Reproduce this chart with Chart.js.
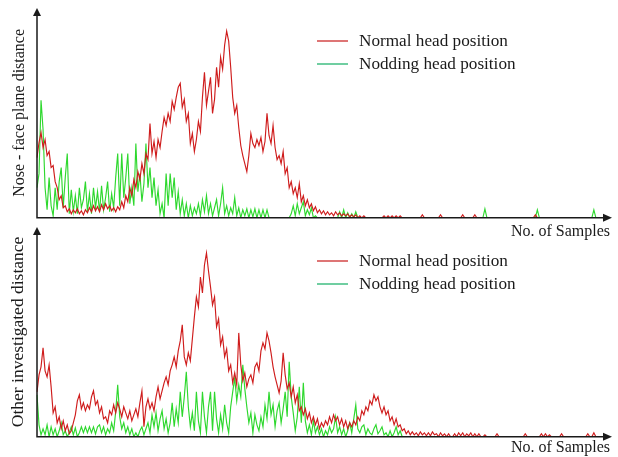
<!DOCTYPE html>
<html>
<head>
<meta charset="utf-8">
<script src="https://cdn.jsdelivr.net/npm/chart.js@4.4.1/dist/chart.umd.min.js"></script>
<style>
    html, body { margin: 0; padding: 0; background: #fff; overflow: hidden; }
    #wrap { position: relative; width: 618px; height: 457px; }
    #topBox { position: absolute; left: 0; top: 0; width: 618px; height: 241px; }
    #botBox { position: absolute; left: 0; top: 220px; width: 618px; height: 237px; }
</style>
</head>
<body>
<div id="wrap">
    <div id="topBox"><canvas id="topChart"></canvas></div>
    <div id="botBox"><canvas id="botChart"></canvas></div>
</div>
<script>
// === DATOS ===
const seriesNames = ['Normal head position', 'Nodding head position'];
const xTitle = 'No. of Samples';
const topTitle = 'Nose - face plane distance';
const botTitle = 'Other investigated distance';

// Panel superior - distancia nariz / plano de la cara
const topNormal = [
    60,75,85,70,78,62,66,50,52,36,
    30,18,22,10,12,6,9,4,8,5,
    9,4,7,3,8,5,10,6,12,7,
    11,6,13,8,14,9,12,7,10,6,
    11,8,16,10,22,16,30,22,38,30,
    46,38,54,44,64,58,94,64,76,60,
    78,70,86,100,92,104,96,116,108,120,
    130,134,110,118,96,104,74,84,66,78,
    96,86,120,145,112,126,140,104,118,150,
    130,160,148,172,186,176,150,120,104,112,
    90,72,62,54,46,62,84,74,70,78,
    72,80,66,76,104,82,74,92,70,58,
    62,54,66,44,50,30,36,24,30,20,
    34,16,22,12,18,10,14,7,11,5,
    8,4,7,3,6,3,5,2,6,3,
    5,2,4,2,4,1,3,1,3,0,
    2,0,2,0,0,0,0,0,0,0,
    0,0,2,0,2,0,2,0,2,0,
    2,0,0,0,0,0,0,0,0,0,
    0,3,0,0,0,0,0,0,0,0,
    3,0,0,0,0,0,0,0,0,0,
    0,3,0,0,0,0,0,3,0,0,
    0,0,0,0,0,0,0,0,0,0,
    0,0,0,0,0,0,0,0,0,0,
    0,0,0,0,0,0,0,3,0,0,
    0,0,0,0,0,0,0,0,0,0,
    0,0,0,0,0,0,0,0,0,0,
    0,0,0,0,0,0,0,0,0,0,
    0,0,0,0,0
];
const topNodding = [
    30,44,117,88,30,8,40,12,2,30,
    8,36,50,10,40,64,4,28,6,22,
    4,30,10,18,36,6,24,4,30,10,
    26,6,32,8,20,36,6,24,10,40,
    64,12,64,20,40,64,14,30,12,74,
    26,44,16,34,74,30,50,20,40,12,
    28,4,14,0,44,12,44,20,40,8,
    26,4,18,2,14,0,12,2,10,4,
    14,2,18,6,22,4,14,2,10,18,
    2,14,30,4,12,2,10,4,20,2,
    10,0,8,2,9,0,8,1,9,0,
    8,0,8,0,8,0,0,0,0,0,
    0,0,0,0,0,0,4,12,2,14,
    4,10,16,2,8,3,10,0,2,0,
    0,0,0,0,0,0,0,0,0,0,
    6,0,8,0,5,0,4,0,6,0,
    0,0,0,0,0,0,0,0,0,0,
    0,0,0,0,0,0,0,0,0,0,
    0,0,0,0,0,0,0,0,0,0,
    0,0,0,0,0,0,0,0,0,0,
    0,0,0,0,0,0,0,0,0,0,
    0,0,0,0,0,0,0,0,0,0,
    0,0,9,0,0,0,0,0,0,0,
    0,0,0,0,0,0,0,0,0,0,
    0,0,0,0,0,0,0,0,8,0,
    0,0,0,0,0,0,0,0,0,0,
    0,0,0,0,0,0,0,0,0,0,
    0,0,0,0,0,0,8,0,0,0,
    0,0,0,0,0
];

// Panel inferior - otra distancia investigada
const botNormal = [
    45,62,70,89,66,60,72,50,24,30,
    14,20,8,16,6,12,3,6,14,22,
    36,42,28,34,26,32,28,40,46,32,
    36,24,30,18,20,14,26,22,32,24,
    34,28,20,30,24,18,26,16,22,28,
    20,34,46,10,30,38,28,34,26,40,
    50,38,46,54,60,52,66,72,80,70,
    86,96,112,80,72,84,76,98,120,140,
    130,160,144,172,184,166,150,132,140,110,
    118,92,100,80,88,66,72,54,64,52,
    104,72,56,64,50,58,62,54,70,74,
    66,86,94,88,104,96,84,70,60,52,
    44,56,84,62,48,54,40,50,34,42,
    26,30,22,28,18,24,14,20,12,18,
    8,14,10,16,12,20,14,22,16,20,
    12,18,10,16,8,14,10,16,12,20,
    16,26,22,30,26,36,32,42,36,40,
    30,24,30,22,26,16,20,12,18,10,
    12,6,8,3,6,2,5,2,4,1,
    5,2,4,1,4,1,5,2,3,0,
    4,1,3,0,3,0,0,3,0,4,
    1,4,0,3,1,4,0,3,0,3,
    0,0,2,0,0,0,0,0,3,0,
    0,0,0,0,0,0,0,0,0,0,
    0,0,3,0,0,0,0,0,0,0,
    3,0,3,0,2,0,0,0,0,0,
    3,0,0,0,0,0,0,0,0,0,
    0,0,0,3,0,0,4,0,0,0,
    0,0,0,0,0
];
const botNodding = [
    42,12,2,8,2,12,0,10,2,8,
    0,6,14,2,6,0,4,10,2,9,
    0,4,10,4,10,4,10,4,10,3,
    10,12,4,10,2,8,4,14,6,25,
    52,20,8,14,4,10,2,8,0,4,
    0,6,10,2,8,14,4,22,10,24,
    6,18,26,8,18,4,14,34,10,28,
    14,45,20,40,65,30,10,24,6,45,
    16,4,45,20,4,30,45,6,45,18,
    4,22,8,32,14,4,30,45,59,36,
    52,40,72,48,30,14,24,4,22,12,
    6,20,10,32,18,45,22,32,10,26,
    34,14,28,45,20,75,40,24,6,20,
    50,14,54,16,4,12,2,16,4,10,
    2,8,0,6,2,10,4,8,20,4,
    10,2,8,0,6,14,4,18,32,8,
    4,10,12,2,8,4,2,8,12,3,
    6,10,2,4,0,6,0,4,10,2,
    6,0,0,0,0,0,0,0,0,0,
    0,0,0,0,0,0,0,0,0,0,
    0,0,0,0,0,0,0,0,0,0,
    0,0,0,0,0,0,0,0,0,0,
    0,0,0,0,0,0,0,0,0,0,
    0,0,0,0,0,0,0,0,0,0,
    0,0,0,0,0,0,0,0,0,0,
    0,0,0,0,0,0,0,0,0,0,
    0,0,0,0,0,0,0,0,0,0,
    0,0,0,0,0,0,0,0,0,0,
    0,0,0,0,0
];

// Nº de muestra (categorías del eje x)
const sampleNo = topNormal.map((_, i) => i + 1);

// === ESTILOS ===
const FONT = '"Liberation Serif", "DejaVu Serif", serif';
const TEXT_COLOR = '#1a1a1a';
const lineColors = ['#cf1c1c', '#2ed82e'];
const legendColors = ['#cc2a2a', '#22b36e'];

// Ejes con flecha (dibujados encima de las series)
const axisArrows = {
    id: 'axisArrows',
    afterDatasetsDraw(chart) {
        const { ctx, chartArea: a } = chart;
        ctx.save();
        ctx.strokeStyle = TEXT_COLOR;
        ctx.fillStyle = TEXT_COLOR;
        ctx.lineWidth = 1.5;
        ctx.beginPath();
        ctx.moveTo(a.left, a.top + 6);
        ctx.lineTo(a.left, a.bottom);
        ctx.lineTo(a.right - 6, a.bottom);
        ctx.stroke();
        // flecha vertical
        ctx.beginPath();
        ctx.moveTo(a.left, a.top);
        ctx.lineTo(a.left - 4, a.top + 8);
        ctx.lineTo(a.left + 4, a.top + 8);
        ctx.closePath();
        ctx.fill();
        // flecha horizontal
        ctx.beginPath();
        ctx.moveTo(a.right + 2, a.bottom);
        ctx.lineTo(a.right - 7, a.bottom - 4);
        ctx.lineTo(a.right - 7, a.bottom + 4);
        ctx.closePath();
        ctx.fill();
        ctx.restore();
    }
};

// Leyenda dentro del área del gráfico
const insideLegend = {
    id: 'insideLegend',
    afterDraw(chart, args, opts) {
        const ctx = chart.ctx;
        ctx.save();
        ctx.font = '17.2px ' + FONT;
        ctx.textBaseline = 'middle';
        chart.data.datasets.forEach((ds, i) => {
            const y = opts.y + i * 23;
            ctx.strokeStyle = legendColors[i];
            ctx.lineWidth = 1.3;
            ctx.beginPath();
            ctx.moveTo(opts.x, y);
            ctx.lineTo(opts.x + 31, y);
            ctx.stroke();
            ctx.fillStyle = TEXT_COLOR;
            ctx.fillText(ds.label, opts.x + 42, y);
        });
        ctx.restore();
    }
};

function buildChart(canvasId, normal, nodding, yTitle, yTitleSize, yMax, padTop, xTitlePad) {
    return new Chart(document.getElementById(canvasId), {
        type: 'line',
        data: {
            labels: sampleNo,
            datasets: [
                { label: seriesNames[0], data: normal, borderColor: lineColors[0], borderWidth: 1.15 },
                { label: seriesNames[1], data: nodding, borderColor: lineColors[1], borderWidth: 1.15 }
            ]
        },
        options: {
            responsive: true,
            maintainAspectRatio: false,
            animation: false,
            elements: { point: { radius: 0 }, line: { tension: 0 } },
            layout: { padding: { left: 37 - (yTitleSize * 1.2 + 8), right: 8, top: padTop, bottom: 0 } },
            plugins: {
                legend: { display: false },
                tooltip: { enabled: false },
                insideLegend: { x: 317, y: 41 }
            },
            scales: {
                x: {
                    grid: { display: false, drawTicks: false },
                    border: { display: false },
                    ticks: { display: false },
                    title: {
                        display: true, text: xTitle, align: 'end',
                        color: TEXT_COLOR, font: { family: FONT, size: 16 },
                        padding: xTitlePad
                    }
                },
                y: {
                    min: 0, max: yMax,
                    grid: { display: false, drawTicks: false },
                    border: { display: false },
                    ticks: { display: false },
                    title: {
                        display: true, text: yTitle,
                        color: TEXT_COLOR, font: { family: FONT, size: yTitleSize },
                        padding: { top: 0, bottom: 8 }
                    }
                }
            }
        },
        plugins: [axisArrows, insideLegend]
    });
}

buildChart('topChart', topNormal, topNodding, topTitle, 16, 209, 8, { top: 4, bottom: 0 });
buildChart('botChart', botNormal, botNodding, botTitle, 17.5, 210, 7, { top: 1, bottom: 0 });
</script>
</body>
</html>
